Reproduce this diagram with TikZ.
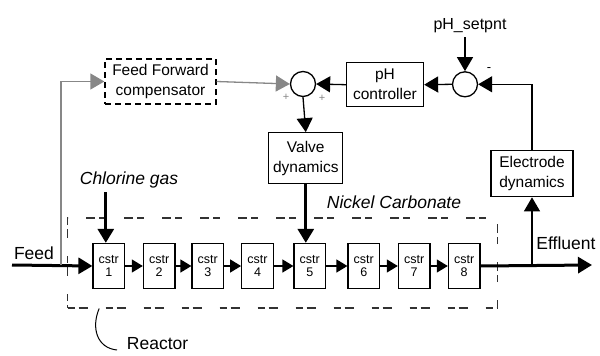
\documentclass[tikz,border=0pt]{standalone}
\usepackage{fontspec}
\setmainfont{Liberation Sans}
\usetikzlibrary{arrows.meta,positioning}
\definecolor{ffgrey}{RGB}{135,135,135}
\definecolor{rxgrey}{RGB}{50,50,50}

\begin{document}
\begin{tikzpicture}[x=1pt, y=-1pt, line width=1.3pt,
  blk/.style={draw, fill=white, align=center, inner sep=1pt, font=\fontsize{15.5}{20}\selectfont},
  cstrbox/.style={draw, fill=white, align=center, inner sep=0pt, minimum width=31.5pt, minimum height=45pt, font=\fontsize{12.5}{13.5}\selectfont},
  sumc/.style={draw, circle, inner sep=0pt, minimum size=25pt},
  lbl/.style={font=\fontsize{17.5}{20}\selectfont},
  sgn/.style={text=ffgrey, inner sep=0pt, font=\fontsize{11}{11}\selectfont},
  tip/.style={-{Triangle[length=14pt,width=16pt]}},
  smalltip/.style={-{Triangle[length=11pt,width=13pt]}},
  thicktip/.style={line width=3pt, -{Triangle[length=14pt,width=16pt]}},
  ffline/.style={ffgrey, -{Triangle[length=14pt,width=16pt]}}]
  \useasboundingbox (0,0) rectangle (600,356);

  % reactor boundary
  \node[draw=rxgrey, line width=1.1pt, dash pattern=on 7pt off 4pt on 9pt off 18pt,
        minimum width=430pt, minimum height=90pt] (rx) at (282.7,263) {};

  % tanks in series
  \foreach \n/\xc in {1/108.8, 2/159.2, 3/207.8, 4/257.5, 5/309.8, 6/363.8, 7/414.2, 8/464.2}
    \node[cstrbox] (c\n) at (\xc,266) {cstr\\\n};
  \foreach \i [count=\j from 2] in {1,...,7}
    \draw[smalltip] (c\i.east) -- (c\j.west);

  % control loop blocks
  \node[blk, draw=black, dashed, dash pattern=on 6pt off 4pt, minimum width=111pt, minimum height=45pt] (ff) at (160.5,81.5) {Feed Forward\\compensator};
  \node[sumc] (s1) at (303,84) {};
  \node[blk, minimum width=77pt, minimum height=44pt] (pc) at (385,84.7) {pH\\controller};
  \node[sumc] (s2) at (465,84.3) {};
  \node[blk, minimum width=74pt, minimum height=51pt] (vd) at (305.8,158.3) {Valve\\dynamics};
  \node[blk, minimum width=82pt, minimum height=46pt] (ed) at (532,173.7) {Electrode\\dynamics};

  % labels
  \node[font=\fontsize{16}{18}\selectfont, anchor=south] (sp) at (470,37) {pH\_setpnt};
  \node[sgn] (p1) at (286,97) {+};
  \node[sgn] (p2) at (322,98) {+};
  \node[sgn, text=black, font=\fontsize{13}{13}\selectfont] (m2) at (489,70) {-};
  \node[lbl, font=\fontsize{17.5}{20}\itshape] (chl) at (129,180) {Chlorine gas};
  \node[lbl, font=\fontsize{17.5}{20}\itshape] (nic) at (394,202) {Nickel Carbonate};
  \node[lbl] (feed) at (34,253) {Feed};
  \node[lbl] (eff) at (566,243) {Effluent};
  \node[lbl, anchor=west] (reac) at (123,344) {Reactor};

  \coordinate (fin) at (12,265);
  \coordinate (fout) at (592,265);

  % process streams
  \draw[thicktip] (fin) -- (c1.west);
  \draw[thicktip] (c8.east) -- (fout);
  \draw[thicktip] ([xshift=-3pt]c1.north |- chl.south) -- ([xshift=-3pt]c1.north);
  \draw[thicktip] (vd.south) -- (vd.south |- c5.north);

  % feed forward path
  \draw[ffline] (fin -| 61,0) |- (ff.west);
  \draw[ffline] (ff.east) -- (s1.west);

  % feedback path
  \draw[tip] (ed.south |- c8.east) -- (ed.south);
  \draw[tip] (ed.north) |- (s2.east);
  \draw[tip] (sp.south -| s2.north) -- (s2.north);
  \draw[tip] (s2.west) -- (pc.east);
  \draw[tip] (pc.west) -- (s1.east);
  \draw[tip] (s1.south) -- (vd.north);

  % reactor tag
  \draw[line width=1pt] ([xshift=32pt]rx.south west) .. controls (91,328) and (97,348) .. ([shift={(-6pt,-6pt)}]reac.west);
\end{tikzpicture}
\end{document}
